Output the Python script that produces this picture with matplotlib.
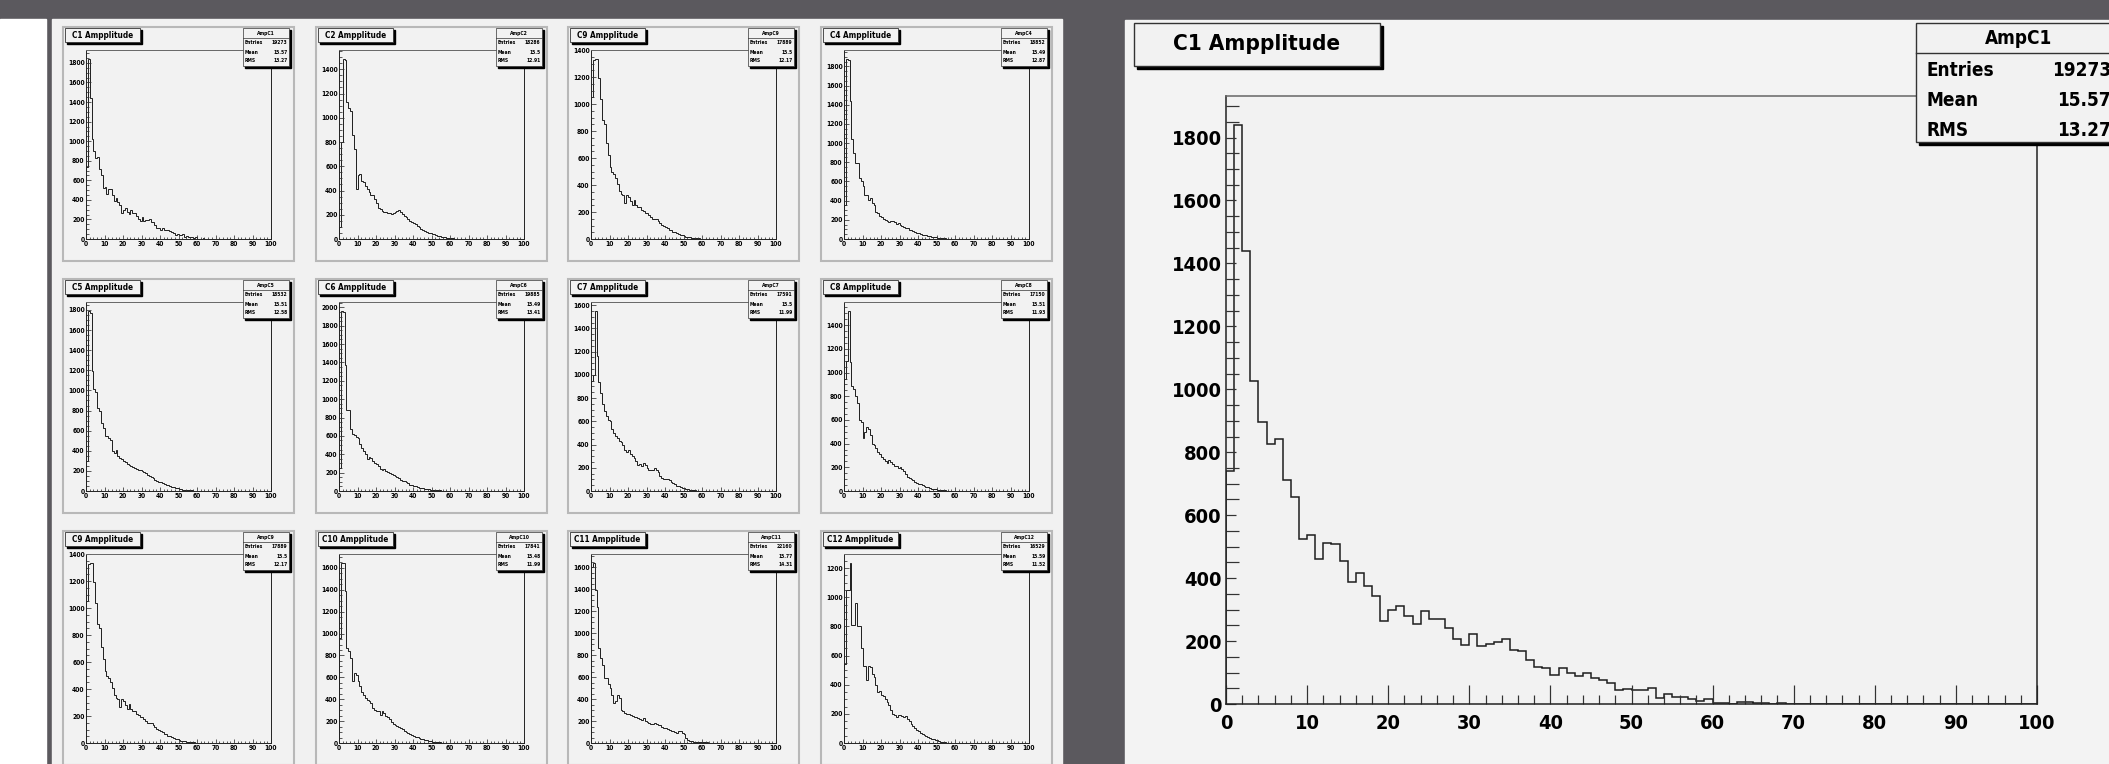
#bibliotecas
import numpy as np
import matplotlib
matplotlib.use("Agg")
import matplotlib.pyplot as plt
from matplotlib import font_manager
from matplotlib.patches import Rectangle
from matplotlib.ticker import MultipleLocator

# dados (contagens por bin, bins de largura 1 entre 0 e 100)
c1 = [740, 1840, 1440, 1025, 895, 827, 843, 713, 658, 524,
      536, 460, 512, 508, 454, 388, 417, 376, 343, 265,
      300, 312, 279, 253, 295, 270, 270, 240, 208, 189,
      222, 185, 190, 198, 205, 173, 169, 140, 116, 113,
      92, 113, 97, 90, 97, 84, 76, 66, 44, 47,
      44, 44, 51, 18, 32, 21, 23, 17, 11, 16,
      2, 2, 1, 7, 5, 2, 4, 1, 2, 1,
      1, 1, 1, 1, 1, 1]
c2 = [100, 800, 1485, 1480, 1130, 1080, 1060, 860, 740, 410,
      530, 540, 480, 470, 440, 410, 390, 360, 360, 330,
      300, 255, 245, 230, 220, 220, 215, 215, 210, 215,
      220, 230, 240, 225, 205, 190, 180, 165, 150, 140,
      130, 120, 105, 95, 80, 72, 65, 58, 52, 48,
      44, 38, 32, 28, 24, 20, 16, 13, 10, 9,
      7, 5, 4, 3, 3, 2, 1, 1, 1, 1,
      1, 1, 0, 1, 0, 1]
c9 = [1050, 1330, 1335, 1335, 1195, 1040, 885, 850, 710, 620,
      535, 500, 485, 450, 410, 355, 335, 325, 270, 325,
      310, 280, 250, 290, 255, 235, 240, 215, 205, 195,
      195, 175, 165, 150, 150, 150, 130, 115, 105, 100,
      90, 80, 70, 65, 55, 50, 42, 35, 30, 26,
      22, 18, 15, 12, 10, 8, 6, 5, 4, 3,
      2, 1, 1, 1, 1, 1, 1, 1, 1, 1]
c4 = [356, 1877, 1870, 1440, 1040, 900, 795, 795, 635, 600,
      550, 460, 455, 410, 425, 375, 350, 285, 270, 235,
      225, 210, 195, 185, 175, 185, 190, 175, 160, 170,
      150, 135, 125, 115, 110, 95, 90, 80, 70, 65,
      60, 50, 45, 45, 38, 32, 28, 24, 20, 17,
      14, 12, 10, 8, 7, 5, 4, 3, 3, 2,
      2, 1, 1, 1, 1, 1, 1, 1, 1, 1,
      1, 1]
c5 = [300, 1790, 1770, 1190, 1010, 985, 825, 795, 680, 630,
      545, 545, 530, 510, 400, 380, 405, 350, 330, 315,
      300, 285, 270, 255, 245, 235, 230, 220, 210, 205,
      195, 185, 175, 160, 150, 135, 125, 110, 100, 90,
      85, 75, 70, 62, 55, 48, 40, 35, 30, 25,
      20, 17, 14, 12, 10, 8, 6, 5, 4, 3,
      3, 2, 2, 1, 1, 1, 1, 1, 1]
c6 = [250, 1960, 1950, 1375, 880, 880, 680, 625, 605, 590,
      575, 510, 470, 440, 400, 345, 370, 355, 330, 310,
      290, 270, 245, 225, 235, 215, 205, 200, 185, 175,
      160, 150, 140, 125, 110, 105, 100, 90, 70, 60,
      55, 50, 45, 38, 32, 28, 24, 20, 18, 15,
      12, 10, 8, 7, 6, 5, 4, 3, 3, 2,
      2, 1, 1, 1, 1, 1, 1, 1, 1, 1, 1]
c7 = [950, 1000, 1550, 1165, 935, 840, 745, 690, 650, 610,
      600, 530, 500, 475, 455, 430, 420, 400, 350, 340,
      350, 320, 300, 285, 255, 220, 230, 215, 245, 225,
      195, 185, 185, 180, 200, 180, 160, 130, 110, 105,
      105, 100, 95, 80, 70, 60, 45, 40, 35, 28,
      22, 18, 15, 12, 9, 7, 5, 4, 3, 2,
      2, 1, 1, 1, 1, 1, 1, 1, 1, 1, 1]
c8 = [950, 1100, 1520, 1090, 890, 860, 800, 740, 600, 580,
      450, 500, 540, 520, 470, 400, 390, 360, 330, 310,
      290, 270, 250, 240, 260, 245, 225, 210, 215, 195,
      205, 190, 165, 140, 120, 110, 100, 90, 80, 70,
      60, 55, 48, 42, 36, 30, 25, 20, 16, 13,
      10, 8, 7, 6, 5, 4, 3, 2, 2, 2,
      1, 1, 1, 1, 1, 1, 1, 1]
c10 = [960, 1645, 1645, 1387, 870, 840, 777, 565, 640, 625,
       565, 520, 470, 440, 410, 395, 380, 365, 320, 305,
       290, 290, 260, 290, 275, 250, 240, 215, 190, 175,
       160, 155, 145, 135, 125, 110, 100, 90, 80, 72,
       65, 58, 52, 45, 40, 34, 28, 23, 19, 15,
       12, 10, 8, 6, 5, 4, 3, 3, 2, 2,
       1, 1, 1, 1, 1, 1, 1, 1, 1]
c11 = [1600, 1640, 1390, 1235, 870, 777, 715, 595, 595, 535,
       505, 440, 365, 380, 440, 410, 305, 290, 275, 260,
       260, 255, 245, 240, 235, 225, 215, 210, 230, 205,
       195, 180, 175, 170, 180, 170, 165, 160, 150, 140,
       135, 125, 120, 110, 105, 100, 95, 110, 105, 95,
       80, 50, 30, 20, 15, 12, 10, 9, 8, 7,
       6, 5, 5, 4, 4, 4, 3, 3, 3, 3,
       2, 2, 2, 2, 1, 1, 1, 1, 1, 1,
       1, 1, 1, 1, 1, 1, 1, 1, 1, 1]
c12 = [540, 1050, 1050, 1235, 810, 810, 960, 800, 800, 650,
       525, 525, 435, 525, 520, 470, 450, 400, 350, 355,
       330, 320, 300, 280, 260, 225, 200, 190, 180, 195,
       195, 185, 180, 185, 165, 150, 130, 115, 100, 90,
       80, 70, 62, 55, 48, 42, 36, 30, 26, 23,
       20, 14, 8, 5, 4, 3, 1, 1, 1, 1,
       1, 1, 1, 1, 1, 1, 1, 1, 1, 1, 1]

# ordem da grade 3x4 (o terceiro painel da primeira linha repete o C9)
titulos = [["C1 Ampplitude", "C2 Ampplitude", "C9 Ampplitude", "C4 Ampplitude"],
           ["C5 Ampplitude", "C6 Ampplitude", "C7 Ampplitude", "C8 Ampplitude"],
           ["C9 Ampplitude", "C10 Ampplitude", "C11 Ampplitude", "C12 Ampplitude"]]
dados = [[c1, c2, c9, c4], [c5, c6, c7, c8], [c9, c10, c11, c12]]
nomes = [["AmpC1", "AmpC2", "AmpC9", "AmpC4"],
         ["AmpC5", "AmpC6", "AmpC7", "AmpC8"],
         ["AmpC9", "AmpC10", "AmpC11", "AmpC12"]]
entries = [["19273", "18286", "17889", "18852"],
           ["18532", "19885", "17591", "17150"],
           ["17889", "17841", "22160", "16529"]]
means = [["15.57", "15.5", "15.5", "15.49"],
         ["15.51", "15.49", "15.5", "15.51"],
         ["15.5", "15.48", "15.77", "15.59"]]
rmss = [["13.27", "12.91", "12.17", "12.87"],
        ["12.58", "13.41", "11.99", "11.93"],
        ["12.17", "11.99", "14.31", "11.52"]]

# fonte estreita estilo ROOT (Helvetica bold condensada), se existir
fontes = font_manager.fontManager.ttflist
nomes_fontes = {f.name for f in fontes}
cond = [f.name for f in fontes if str(f.stretch) in ('condensed', 'semi-condensed', '75', '87')]
if 'Liberation Sans Narrow' in nomes_fontes:
    FONTE, ESC, STRETCH = 'Liberation Sans Narrow', 1.0, 'normal'
elif 'DejaVu Sans' in cond:
    FONTE, ESC, STRETCH = 'DejaVu Sans', 0.85, 'condensed'
else:
    FONTE, ESC, STRETCH = 'Liberation Sans', 0.85, 'normal'
plt.rcParams['font.family'] = [FONTE, 'DejaVu Sans']
plt.rcParams['font.weight'] = 'bold'
plt.rcParams['font.stretch'] = STRETCH

W, H = 2109, 764
FUNDO = '#f2f2f2'
bordas = np.arange(101)

fig = plt.figure(figsize=(W / 100, H / 100), dpi=100)
fig.patch.set_facecolor('#5b595e')

# camada de fundo em pixels (y para baixo)
bg = fig.add_axes([0, 0, 1, 1])
bg.set_xlim(0, W)
bg.set_ylim(H, 0)
bg.axis('off')
bg.add_patch(Rectangle((0, 19), 46, H - 19, color='white'))
bg.add_patch(Rectangle((52, 19), 1062 - 52, H - 19, color='#f1f1f1'))
bg.add_patch(Rectangle((1125, 20), W - 1125, H - 20, color='#f3f3f3'))


def eixo_hist(x0, y0, x1, y1, cont, fs, lmaj, lmin, lw, pad_x, pad_y):
    ax = fig.add_axes([x0 / W, 1 - y1 / H, (x1 - x0) / W, (y1 - y0) / H])
    ax.set_facecolor(FUNDO)
    v = np.zeros(100)
    v[:len(cont)] = cont
    ax.stairs(v, bordas, color='#1e1e1e', lw=lw)
    ax.set_xlim(0, 100)
    ax.set_ylim(0, 1.05 * max(cont))
    ax.xaxis.set_major_locator(MultipleLocator(10))
    ax.xaxis.set_minor_locator(MultipleLocator(2))
    ax.yaxis.set_major_locator(MultipleLocator(200))
    ax.yaxis.set_minor_locator(MultipleLocator(50))
    ax.tick_params(which='both', direction='in', top=False, right=False,
                   labelsize=fs * ESC, width=lw * 0.8, color='#333333')
    ax.tick_params(axis='x', which='major', length=lmaj[0], pad=pad_x)
    ax.tick_params(axis='x', which='minor', length=lmin[0])
    ax.tick_params(axis='y', which='major', length=lmaj[1], pad=pad_y)
    ax.tick_params(axis='y', which='minor', length=lmin[1])
    for lado in ['left', 'bottom', 'right', 'top']:
        ax.spines[lado].set_linewidth(lw)
        ax.spines[lado].set_color('#222222')
    ax.spines['top'].set_color('#666666')
    return ax


# painel grande (C1)
eixo_hist(1226, 96, 2037, 704, c1, 17, (14, 7), (6.5, 9), 1.1, 7, 3)

# painéis pequenos
col_x = [63, 316, 568, 821]
lin_y = [27, 279, 531]
for i in range(3):
    for j in range(4):
        px, py = col_x[j], lin_y[i]
        bg.add_patch(Rectangle((px, py), 231, 234, facecolor=FUNDO,
                               edgecolor='#b8b8b8', lw=1.5))
        eixo_hist(px + 23, py + 23, px + 208, py + 212, dados[i][j],
                  5.6, (3, 3.5), (1.5, 2), 0.7, 1.5, 1)

# camada de cima: caixas de titulo e de estatistica
ov = fig.add_axes([0, 0, 1, 1])
ov.set_xlim(0, W)
ov.set_ylim(H, 0)
ov.axis('off')
ov.patch.set_alpha(0)


def caixa_titulo(x0, y0, x1, y1, texto, fs, sh, lw):
    ov.add_patch(Rectangle((x0 + sh, y0 + sh), x1 - x0, y1 - y0, color='black'))
    ov.add_patch(Rectangle((x0, y0), x1 - x0, y1 - y0, facecolor=FUNDO,
                           edgecolor='#333333', lw=lw))
    ov.text((x0 + x1) / 2, (y0 + y1) / 2, texto, ha='center', va='center',
            fontsize=fs * ESC, fontweight='bold')


def caixa_stats(x0, y0, x1, y1, yh, linhas, xl, xr, nome, e, m, r, fs, sh, lw):
    ov.add_patch(Rectangle((x0 + sh, y0 + sh), x1 - x0, y1 - y0, color='black'))
    ov.add_patch(Rectangle((x0, y0), x1 - x0, y1 - y0, facecolor=FUNDO,
                           edgecolor='#333333', lw=lw))
    ov.plot([x0, x1], [yh, yh], color='#333333', lw=lw)
    ov.text((x0 + x1) / 2, (y0 + yh) / 2, nome, ha='center', va='center',
            fontsize=fs * ESC)
    for yy, lab, val in zip(linhas, ["Entries", "Mean", "RMS"], [e, m, r]):
        ov.text(xl, yy, lab, ha='left', va='center', fontsize=fs * ESC)
        ov.text(xr, yy, val, ha='right', va='center', fontsize=fs * ESC)


caixa_titulo(1134, 23, 1380, 66, "C1 Ampplitude", 19, 3, 1.0)
caixa_stats(1916, 23, 2122, 142, 53, [70, 101, 130], 1926, 2111,
            "AmpC1", "19273", "15.57", "13.27", 16, 3, 1.0)

for i in range(3):
    for j in range(4):
        px, py = col_x[j], lin_y[i]
        caixa_titulo(px + 2, py + 1, px + 77, py + 15, titulos[i][j], 6.9, 2, 0.6)
        caixa_stats(px + 180, py + 1, px + 226, py + 39, py + 11,
                    [py + 16, py + 25, py + 33.5], px + 182, px + 224.5,
                    nomes[i][j], entries[i][j], means[i][j], rmss[i][j],
                    4.2, 2, 0.5)

fig.savefig('out.png', dpi=100)
